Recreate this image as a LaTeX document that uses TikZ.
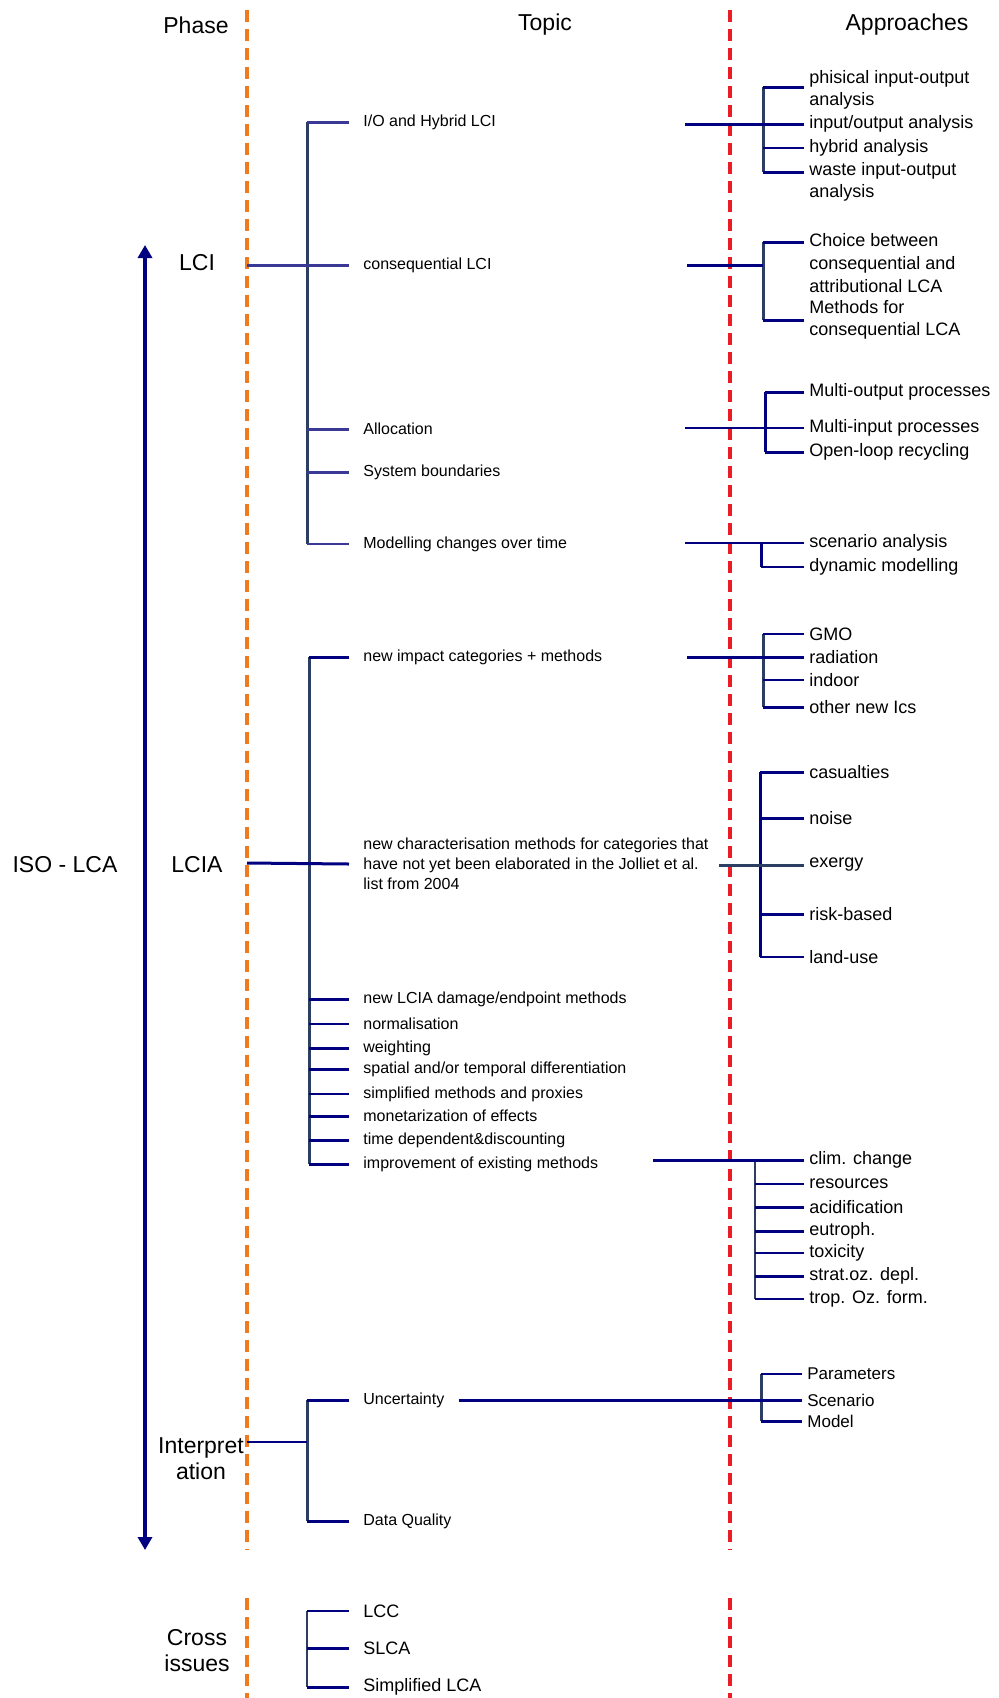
\documentclass[tikz,border=0pt]{standalone}
\usepackage{fontspec}
\setmainfont{Liberation Sans}
\usetikzlibrary{arrows.meta}

\definecolor{phaseorange}{RGB}{240,122,30}
\definecolor{topicred}{RGB}{236,28,36}
\definecolor{navyline}{RGB}{0,0,128}
\definecolor{slateline}{RGB}{44,62,98}
\definecolor{lciblue}{RGB}{58,58,150}

\tikzset{
  head/.style={font=\fontsize{11.5}{13}\selectfont},
  phase/.style={font=\fontsize{11.5}{13}\selectfont, align=center},
  topic/.style={anchor=west, inner xsep=7pt, inner ysep=1pt, font=\fontsize{8}{10}\selectfont, align=left},
  crossitem/.style={topic, font=\fontsize{9}{11}\selectfont},
  appr/.style={anchor=west, inner xsep=2.5pt, inner ysep=1pt, font=\fontsize{9}{11.3}\selectfont, align=left},
  apprsmall/.style={appr, font=\fontsize{8.5}{10}\selectfont},
  sep/.style={line width=2pt, dash pattern=on 6pt off 3.5pt},
  wire/.style={navyline, line width=1.5pt},
  midwire/.style={navyline, line width=1pt},
  thinwire/.style={navyline, line width=0.75pt},
  lciwire/.style={lciblue, line width=1.5pt},
  trunk/.style={slateline, line width=1.5pt},
  thintrunk/.style={slateline, line width=0.9pt}
}

\begin{document}
\begin{tikzpicture}[x=0.5pt, y=-0.5pt]
  \useasboundingbox (0,0) rectangle (998,1698);

  % separators
  \draw[sep, phaseorange] (247,10) -- (247,1550);
  \draw[sep, phaseorange] (247,1598) -- (247,1698);
  \draw[sep, topicred] (730,10) -- (730,1550);
  \draw[sep, topicred] (730,1598) -- (730,1698);

  % headings
  \node[head] (hphase) at (196,25) {Phase};
  \node[head] (htopic) at (545,25) {Topic};
  \node[head] (happr) at (907,25) {Approaches};

  % phases
  \node[phase] (lci) at (197,263) {LCI};
  \node[phase] (lcia) at (197,865) {LCIA};
  \node[phase] (iso) at (65,865) {ISO - LCA};
  \node[phase] (interp) at (201,1459) {Interpret\\ation};
  \node[phase] (cross) at (197,1651) {Cross\\issues};

  \coordinate (isotop) at (145,245);
  \coordinate (isobot) at (145,1550);
  \draw[navyline, line width=2pt, {Triangle[length=6.5pt,width=7pt]}-{Triangle[length=6.5pt,width=7pt]}] (isotop) -- (isobot);

  % LCI topics
  \coordinate (lciT) at (307,122);
  \coordinate (lciS) at (247,265);
  \node[topic] (t1) at (349,122) {I/O and Hybrid LCI};
  \node[topic] (t2) at (349,265) {consequential LCI};
  \node[topic] (t3) at (349,429) {Allocation};
  \node[topic] (t4) at (349,472) {System boundaries};
  \node[topic] (t5) at (349,544) {Modelling changes over time};
  \draw[trunk] (t1.west -| lciT) -- (t5.west -| lciT);
  \draw[lciwire] (lciS) -- (t2.west);
  \draw[lciwire] (t1.west -| lciT) -- (t1.west);
  \draw[lciwire] (t3.west -| lciT) -- (t3.west);
  \draw[lciwire] (t4.west -| lciT) -- (t4.west);
  \draw[lciblue, line width=0.75pt] (t5.west -| lciT) -- (t5.west);

  % LCIA topics
  \coordinate (lciaT) at (309,657);
  \coordinate (lciaS) at (247,863);
  \node[topic] (t6) at (349,657) {new impact categories + methods};
  \node[topic] (t7) at (349,864) {new characterisation methods for categories that\\have not yet been elaborated in the Jolliet et al.\\list from 2004};
  \node[topic] (t8) at (349,999) {new LCIA damage/endpoint methods};
  \node[topic] (t9) at (349,1024) {normalisation};
  \node[topic] (t10) at (349,1048) {weighting};
  \node[topic] (t11) at (349,1069) {spatial and/or temporal differentiation};
  \node[topic] (t12) at (349,1094) {simplified methods and proxies};
  \node[topic] (t13) at (349,1116) {monetarization of effects};
  \node[topic] (t14) at (349,1140) {time dependent\&discounting};
  \node[topic] (t15) at (349,1164) {improvement of existing methods};
  \draw[trunk] (t6.west -| lciaT) -- (t15.west -| lciaT);
  \draw[wire] (lciaS) -- (t7.west);
  \draw[wire] (t6.west -| lciaT) -- (t6.west);
  \draw[wire] (t8.west -| lciaT) -- (t8.west);
  \draw[thinwire] (t9.west -| lciaT) -- (t9.west);
  \draw[wire] (t10.west -| lciaT) -- (t10.west);
  \draw[wire] (t11.west -| lciaT) -- (t11.west);
  \draw[thinwire] (t12.west -| lciaT) -- (t12.west);
  \draw[wire] (t13.west -| lciaT) -- (t13.west);
  \draw[wire] (t14.west -| lciaT) -- (t14.west);
  \draw[wire] (t15.west -| lciaT) -- (t15.west);

  % interpretation topics
  \coordinate (intT) at (307,1442);
  \coordinate (intS) at (247,1442);
  \node[topic] (t16) at (349,1400) {Uncertainty};
  \node[topic] (t17) at (349,1521) {Data Quality};
  \draw[trunk] (t16.west -| intT) -- (t17.west -| intT);
  \draw[thinwire] (intS) -- (intT);
  \draw[wire] (t16.west -| intT) -- (t16.west);
  \draw[wire] (t17.west -| intT) -- (t17.west);

  % cross issues
  \coordinate (crsT) at (307,1611);
  \node[crossitem] (t18) at (349,1611) {LCC};
  \node[crossitem] (t19) at (349,1648) {SLCA};
  \node[crossitem] (t20) at (349,1687) {Simplified LCA};
  \draw[thintrunk] (t18.west -| crsT) -- (t20.west -| crsT);
  \draw[midwire] (t18.west -| crsT) -- (t18.west);
  \draw[wire] (t19.west -| crsT) -- (t19.west);
  \draw[wire] (t20.west -| crsT) -- (t20.west);

  % approaches: I/O
  \coordinate (ioS) at (685,124);
  \coordinate (ioB) at (763,124);
  \node[appr] (ap1) at (804,90) {phisical input-output\\analysis};
  \node[appr] (ap2) at (804,124) {input/output analysis};
  \node[appr] (ap3) at (804,148) {hybrid analysis};
  \node[appr] (ap4) at (804,182) {waste input-output\\analysis};
  \coordinate (ap1t) at ([yshift=1.5pt]ap1.west);
  \coordinate (ap4t) at ([yshift=5pt]ap4.west);
  \draw[trunk] (ap1t -| ioB) -- (ap4t -| ioB);
  \draw[wire] (ioS) -- (ap2.west);
  \draw[wire] (ap1t -| ioB) -- (ap1t);
  \draw[midwire] (ap3.west -| ioB) -- (ap3.west);
  \draw[wire] (ap4t -| ioB) -- (ap4t);

  % approaches: consequential
  \coordinate (conS) at (687,265);
  \coordinate (conB) at (763,265);
  \node[appr] (ap5) at (804,263) {Choice between\\consequential and\\attributional LCA};
  \node[appr] (ap6) at (804,320) {Methods for\\consequential LCA};
  \coordinate (ap5t) at ([yshift=10.5pt]ap5.west);
  \draw[trunk] (ap5t -| conB) -- (ap6.west -| conB);
  \draw[wire] (conS) -- (conB);
  \draw[wire] (ap5t -| conB) -- (ap5t);
  \draw[wire] (ap6.west -| conB) -- (ap6.west);

  % approaches: allocation
  \coordinate (allS) at (685,428);
  \coordinate (allB) at (765,428);
  \node[appr] (ap7) at (804,392) {Multi-output processes};
  \node[appr] (ap8) at (804,428) {Multi-input processes};
  \node[appr] (ap9) at (804,452) {Open-loop recycling};
  \draw[wire] (ap7.west -| allB) -- (ap9.west -| allB);
  \draw[thinwire] (allS) -- (ap8.west);
  \draw[wire] (ap7.west -| allB) -- (ap7.west);
  \draw[wire] (ap9.west -| allB) -- (ap9.west);

  % approaches: modelling over time
  \coordinate (modS) at (685,543);
  \coordinate (modB) at (761,543);
  \node[appr] (ap10) at (804,543) {scenario analysis};
  \node[appr] (ap11) at (804,567) {dynamic modelling};
  \draw[wire] (ap10.west -| modB) -- (ap11.west -| modB);
  \draw[thinwire] (modS) -- (ap10.west);
  \draw[thinwire] (ap11.west -| modB) -- (ap11.west);

  % approaches: new impact categories
  \coordinate (impS) at (687,657);
  \coordinate (impB) at (763,657);
  \node[appr] (ap12) at (804,634) {GMO};
  \node[appr] (ap13) at (804,657) {radiation};
  \node[appr] (ap14) at (804,680) {indoor};
  \node[appr] (ap15) at (804,707) {other new Ics};
  \draw[trunk] (ap12.west -| impB) -- (ap15.west -| impB);
  \draw[wire] (impS) -- (ap13.west);
  \draw[thinwire] (ap12.west -| impB) -- (ap12.west);
  \draw[thinwire] (ap14.west -| impB) -- (ap14.west);
  \draw[wire] (ap15.west -| impB) -- (ap15.west);

  % approaches: characterisation
  \coordinate (chaS) at (719,865);
  \coordinate (chaB) at (760,865);
  \node[appr] (ap16) at (804,772) {casualties};
  \node[appr] (ap17) at (804,818) {noise};
  \node[appr] (ap18) at (804,865) {exergy};
  \node[appr] (ap19) at (804,914) {risk-based};
  \node[appr] (ap20) at (804,957) {land-use};
  \draw[wire] (ap16.west -| chaB) -- (ap20.west -| chaB);
  \draw[trunk] (chaS) -- (ap18.west);
  \draw[wire] (ap16.west -| chaB) -- (ap16.west);
  \draw[wire] (ap17.west -| chaB) -- (ap17.west);
  \draw[wire] (ap19.west -| chaB) -- (ap19.west);
  \draw[thinwire] (ap20.west -| chaB) -- (ap20.west);

  % approaches: improvement of existing methods
  \coordinate (impvS) at (653,1160);
  \coordinate (impvB) at (755,1160);
  \node[appr] (ap21) at (804,1160) {clim. change};
  \node[appr] (ap22) at (804,1184) {resources};
  \node[appr] (ap23) at (804,1207) {acidification};
  \node[appr] (ap24) at (804,1231) {eutroph.};
  \node[appr] (ap25) at (804,1253) {toxicity};
  \node[appr] (ap26) at (804,1276) {strat.oz. depl.};
  \node[appr] (ap27) at (804,1299) {trop. Oz. form.};
  \draw[thintrunk] (ap21.west -| impvB) -- (ap27.west -| impvB);
  \draw[wire] (impvS) -- (ap21.west);
  \draw[thinwire] (ap22.west -| impvB) -- (ap22.west);
  \draw[wire] (ap23.west -| impvB) -- (ap23.west);
  \draw[wire] (ap24.west -| impvB) -- (ap24.west);
  \draw[midwire] (ap25.west -| impvB) -- (ap25.west);
  \draw[wire] (ap26.west -| impvB) -- (ap26.west);
  \draw[thinwire] (ap27.west -| impvB) -- (ap27.west);

  % approaches: uncertainty
  \coordinate (uncB) at (761,1400);
  \node[apprsmall] (ap28) at (802,1374) {Parameters};
  \node[apprsmall] (ap29) at (802,1400) {Scenario};
  \node[apprsmall] (ap30) at (802,1421) {Model};
  \draw[trunk] (ap28.west -| uncB) -- (ap30.west -| uncB);
  \draw[wire] (t16.east) -- (ap29.west);
  \draw[thinwire] (ap28.west -| uncB) -- (ap28.west);
  \draw[wire] (ap30.west -| uncB) -- (ap30.west);
\end{tikzpicture}
\end{document}
